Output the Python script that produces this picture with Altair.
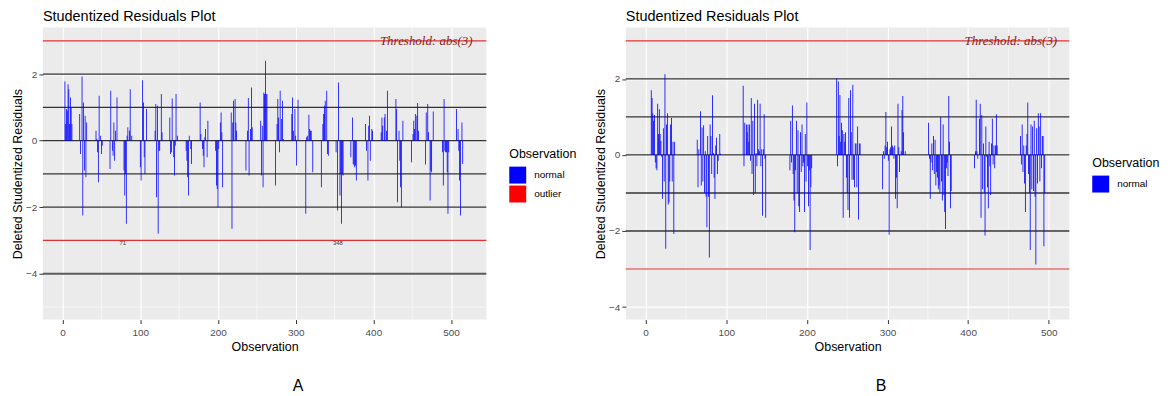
import altair as alt
import pandas as pd

# ---------------- Panel A data (observation index, deleted studentized residual)
a_obs = [3, 4, 5, 6, 7, 8, 9, 10, 11, 12,
         22, 23, 25, 26, 27, 28, 29, 30, 31,
         43, 44, 45, 46, 47, 49, 50, 51,
         61, 62, 64, 65, 66, 67, 68, 70,
         79, 80, 81, 82, 83, 84, 86, 87, 89,
         100, 101, 103, 104, 105, 106, 108,
         119, 120, 121, 122, 123, 124, 125, 127, 128,
         138, 139, 140, 141, 143, 144, 145, 146, 148,
         159, 160, 161, 162, 163, 165, 166,
         177, 178, 180, 181, 182, 183, 184, 186, 187,
         197, 198, 199, 200, 201, 203, 204, 205, 206,
         217, 218, 219, 220, 222, 223, 224,
         236, 238, 239, 240, 242, 243, 244,
         255, 256, 257, 258, 259, 260, 261, 262, 263,
         274, 276, 277, 278, 279, 280, 282, 283, 284,
         295, 296, 297, 299, 300, 301, 303,
         313, 314, 315, 317, 318, 319, 320, 322,
         333, 335, 336, 337, 338, 340, 341, 342,
         352, 354, 355, 357, 358, 359, 360, 361,
         371, 373, 374, 375, 376, 377, 378,
         390, 391, 393, 394, 395, 396, 398, 399,
         410, 411, 412, 414, 415, 417, 418,
         429, 430, 431, 433, 434, 435, 436, 438,
         449, 451, 452, 453, 454, 456, 457, 458,
         467, 468, 470, 471, 473, 474, 475, 477,
         489, 490, 491, 492, 493, 494, 495, 496, 497,
         507, 509, 510, 511, 512, 514, 515]
a_res = [1.78, 0.5, 0.95, 0.9, 1.7, 1.55, 0.5, 1.3, 1.0, 0.5,
         0.8, -0.4, 1.93, -2.25, 1.15, -0.9, 0.75, -1.1, 0.55,
         0.3, 0.05, -0.35, -1.25, 1.35, 0.15, -0.4, -0.15,
         -0.85, 1.5, -0.3, -0.45, 0.55, -0.6, 0.3, 1.3,
         -0.9, -1.65, -1.0, -2.5, 0.15, 0.4, 0.3, 1.55, 0.15,
         -0.8, -1.2, 1.82, 1.15, -0.5, -1.0, 0.95,
         0.3, 1.1, -1.7, 1.05, -2.8, -0.3, -0.3, 1.4, 0.25,
         0.7, -0.4, -0.35, 1.27, -0.5, -1.05, -0.15, 1.4, 0.15,
         -0.3, -0.6, -1.1, -1.65, 0.15, -0.25, -0.7,
         1.15, 0.2, -0.25, -0.45, -0.8, 0.1, 0.35, -0.5, 0.6,
         -0.3, -1.35, -1.45, -2.0, -0.25, 0.55, 0.85, 0.25, -1.4,
         0.85, -2.65, 0.55, 1.2, 1.25, 0.55, 0.3,
         -0.9, 0.3, 1.28, -1.05, 0.35, 1.6, 0.4,
         0.6, -1.05, 0.45, -1.4, 1.45, 1.4, 2.4, 1.4, 1.4,
         -1.35, 0.5, 1.25, 0.7, -0.35, 1.5, 0.65, 1.2, 0.05,
         0.8, 1.3, 0.3, 0.95, 0.15, -0.75, 1.23,
         -2.2, 0.1, 0.15, 0.78, 0.35, 0.3, 0.3, -0.95,
         -1.4, 0.5, 0.8, 1.05, 1.2, 1.5, -0.4, -0.45,
         -0.35, -2.1, 1.75, -1.65, -1.0, -2.5, -1.0, -1.05,
         -0.5, 0.7, -0.7, -0.75, -0.8, -0.75, -1.2,
         0.5, -0.3, -1.2, 0.45, 0.75, -0.6, 0.35, 0.3,
         0.25, 0.7, 0.45, 0.7, 0.8, 0.3, 1.5,
         1.25, 0.95, -1.85, 0.3, -0.6, -1.4, -2.0, 0.6,
         -0.65, 0.2, 0.6, 0.35, 0.8, 0.75, 1.13, 0.3,
         -0.72, 0.85, 1.1, 0.25, -1.8, -0.9, -0.95, 0.88,
         -0.35, -1.35, 1.25, -0.3, -0.35, -0.35, -0.95, -2.2, -0.35,
         0.95, 0.35, -0.3, -1.2, -2.25, 0.55, -0.7]

# ---------------- Panel B data
b_obs = [7, 8, 9, 10, 11, 12, 13, 14, 15, 16, 17, 18, 19, 20, 21, 22, 23, 24, 25, 26,
         27, 28, 29, 30, 31, 32, 33, 34, 35, 36,
         64, 65, 66, 68, 69, 70, 71, 72, 73, 74, 75, 76, 77, 78, 79, 80, 81, 82, 83,
         84, 85, 86, 87, 88, 89, 90, 92, 93,
         121, 122, 123, 125, 126, 127, 128, 129, 130, 131, 132, 133, 134, 135, 136,
         137, 138, 139, 140, 141, 142, 143, 144, 145, 146, 147, 148, 149,
         179, 180, 181, 182, 183, 184, 185, 186, 187, 188, 189, 190, 191, 192, 193,
         194, 195, 196, 197, 198, 199, 200, 201, 202, 203, 204, 205, 206,
         237, 238, 239, 240, 241, 242, 243, 244, 245, 246, 247, 248, 249, 250, 251,
         252, 253, 254, 255, 256, 257, 258, 259, 260, 261, 262, 263, 264, 265, 266,
         294, 295, 296, 297, 298, 299, 300, 301, 302, 303, 304, 305, 306, 307, 308,
         309, 310, 311, 312, 313, 314, 315, 317, 318, 319, 320, 322,
         351, 352, 353, 354, 355, 356, 357, 358, 359, 360, 361, 362, 363, 364, 365,
         366, 367, 368, 369, 370, 371, 372, 373, 374, 375, 376, 377, 378, 379,
         408, 409, 410, 411, 412, 414, 415, 416, 417, 418, 419, 420, 421, 422, 423,
         424, 425, 426, 427, 428, 429, 430, 431, 432, 433, 434, 435, 436,
         465, 466, 467, 468, 469, 470, 471, 472, 473, 474, 475, 476, 477, 478, 479,
         480, 481, 482, 483, 484, 485, 486, 487, 488, 489, 490, 491, 492, 493, 494, 495]
b_res = [1.7, 1.5, 1.1, 0.9, 1.05, -0.2, -0.35, -0.4, 1.35, 0.55, 1.2, 0.55, 0.37, -0.05, -1.15, 0.7, -0.7, 2.12, -2.47, 0.8,
         1.1, -1.3, -1.25, -0.7, 0.8, 0.97, -0.7, 0.35, -2.08, 0.35,
         0.4, -0.85, 0.15, 1.15, -0.8, 0.72, -0.7, 0.78, -1.0, 0.1, -1.1, -1.9, 0.5, -1.1, -2.7, 0.8, 0.5, -0.5, 1.57,
         0.05, -0.6, -1.15, 0.25, 0.45, -0.5, -0.15, 0.55, 0.03,
         1.82, -0.3, 0.85, 0.8, 0.6, 0.8, 0.35, 0.8, -0.15, 1.5, -0.5, 0.9, -1.05, 1.35, -1.0,
         0.05, -0.3, 1.45, 0.15, 0.1, 1.35, -0.3, 0.15, -1.6, 0.15, 1.07, -0.1, -1.65,
         -0.4, 0.9, -0.2, 1.3, -0.5, -1.2, -2.03, -0.4, 0.9, -1.0, 0.65, -1.35, -1.5, 0.6, -0.45,
         0.8, -0.3, -0.2, -1.5, 0.55, -0.7, 1.38, -0.3, -1.35, -0.4, -2.5, -0.85, -0.35,
         2.02, -0.3, 1.93, 0.5, 1.58, 0.35, 0.85, 0.65, -1.65, 0.55, 0.35, 0.6, -0.6, -1.0, -1.45,
         1.5, -1.65, 1.7, 0.6, -0.65, 1.85, -0.65, -0.85, 0.3, 0.3, -0.85, 0.75, -1.7, 0.3, 0.3,
         -0.9, 0.1, -0.1, 0.25, 1.13, 0.2, 0.35, -0.15, -2.1, 0.15, 0.2, 0.75, 0.25, 0.2, -0.1,
         0.25, -1.15, -0.6, -1.4, 1.35, 0.2, -0.45, 0.1, 1.18, 1.55, 0.6, 0.1,
         0.85, -0.1, -1.15, -0.2, 0.3, -0.4, 0.5, -0.5, 0.4, -0.8, -0.45, -0.6, -0.9, -0.8, -1.0,
         1.0, -0.7, -1.2, 0.8, -1.05, -1.5, -1.95, -0.35, -0.2, -0.55, 1.55, 0.35, -1.4, -0.95,
         -0.35, 0.1, 1.45, 0.1, -0.1, 0.95, 1.35, -1.65, 1.05, -0.9, 0.3, -1.0, -2.12, 0.75, -0.05,
         -0.85, -1.4, 0.35, -0.3, -1.05, 0.3, 0.95, -0.25, 0.25, -0.35, 0.25, 1.07, 0.25,
         0.5, -0.25, 0.8, -0.45, 0.25, -0.75, -1.5, 0.25, 0.55, 1.38, -0.5, -1.0, -2.5, 0.8, -0.9,
         0.75, -0.95, 0.9, -1.1, -2.88, 0.7, -0.75, 1.1, 0.75, -0.7, 1.1, -0.35, 0.5, 0.5, -2.4, -1.0]

# ---------------- reference lines, ticks, labels
a_black_lines = [-2, -1, 0, 1, 2]
a_grey_lines = [-4]
b_black_lines = [-2, -1, 0, 1, 2]
threshold_lines = [-3, 3]
threshold_text = "Threshold: abs(3)"
a_outlier_ids = [71, 348]
x_major = [0, 100, 200, 300, 400, 500]
x_minor = [50, 150, 250, 350, 450]
y_major = [-4, -2, 0, 2]
a_y_minor = [-5, -3, -1, 1, 3]
b_y_minor = [-3, -1, 1, 3]

FONT = "Liberation Sans"
BLUE = "#0000ff"
RED = "#ff0000"


def panel(obs, res, ydom, xdom, black, grey, yminor, cats, cols, labels, letter, text_x, leg_y):
    df = pd.DataFrame({"obs": obs, "res": res, "kind": ["normal"] * len(obs)})
    xs = alt.Scale(domain=xdom, nice=False, zero=False)
    ys = alt.Scale(domain=ydom, nice=False, zero=False)

    xax = alt.Axis(values=x_major, grid=True, gridColor="white", gridWidth=1.1,
                   domain=False, tickColor="#333333", tickSize=4, tickWidth=1,
                   labelColor="#4d4d4d", labelFontSize=10, labelFont=FONT, labelPadding=4,
                   title="Observation", titleFont=FONT, titleFontSize=12.5,
                   titleFontWeight="normal", titleColor="black", titlePadding=3)
    yax = alt.Axis(values=y_major, grid=True, gridColor="white", gridWidth=1.1,
                   domain=False, tickColor="#333333", tickSize=4, tickWidth=1,
                   labelColor="#4d4d4d", labelFontSize=10, labelFont=FONT, labelPadding=2,
                   title="Deleted Studentized Residuals", titleFont=FONT, titleFontSize=12.5,
                   titleFontWeight="normal", titleColor="black", titlePadding=1)

    minor_x = alt.Chart(pd.DataFrame({"v": x_minor})).mark_rule(
        color="white", strokeWidth=0.5).encode(x=alt.X("v:Q", scale=xs, axis=xax))
    minor_y = alt.Chart(pd.DataFrame({"v": yminor})).mark_rule(
        color="white", strokeWidth=0.5).encode(y=alt.Y("v:Q", scale=ys, axis=yax))

    hl = alt.Chart(pd.DataFrame({"v": black})).mark_rule(
        color="#333333", strokeWidth=1.3).encode(y=alt.Y("v:Q", scale=ys))
    layers = [minor_x, minor_y, hl]
    if grey:
        gl = alt.Chart(pd.DataFrame({"v": grey})).mark_rule(
            color="#5a5a5a", strokeWidth=2).encode(y=alt.Y("v:Q", scale=ys))
        layers.append(gl)

    bars = alt.Chart(df).transform_calculate(
        x1="datum.obs - 0.5", x2="datum.obs + 0.5"
    ).mark_bar(opacity=1).encode(
        x=alt.X("x1:Q", scale=xs),
        x2="x2:Q",
        y=alt.Y("res:Q", scale=ys),
        y2=alt.datum(0),
        color=alt.Color("kind:N", scale=alt.Scale(domain=cats, range=cols),
                        legend=alt.Legend(title="Observation", orient="none",
                                          legendX=468, legendY=leg_y,
                                          titleFont=FONT, titleFontSize=12.5,
                                          titleFontWeight="normal", titleColor="black",
                                          titlePadding=6,
                                          labelFont=FONT, labelFontSize=10, labelColor="black",
                                          symbolType="square", symbolSize=289,
                                          symbolStrokeWidth=0, symbolOpacity=1,
                                          rowPadding=2, labelOffset=8)),
    )
    layers.append(bars)

    red = alt.Chart(pd.DataFrame({"v": threshold_lines})).mark_rule(
        color="#e03030", strokeWidth=1.2).encode(y=alt.Y("v:Q", scale=ys))
    layers.append(red)

    ttxt = alt.Chart(pd.DataFrame({"x": [text_x], "y": [3], "t": [threshold_text]})).mark_text(
        font="Liberation Serif", fontStyle="italic", fontSize=13, color="#8b1a1a",
        baseline="middle").encode(x=alt.X("x:Q", scale=xs), y=alt.Y("y:Q", scale=ys), text="t:N")
    layers.append(ttxt)

    if labels:
        lab = alt.Chart(pd.DataFrame({"x": labels, "y": [-3] * len(labels),
                                      "t": [str(v) for v in labels]})).mark_text(
            font=FONT, fontSize=6, color="#333333", baseline="middle", dx=5, dy=3
        ).encode(x=alt.X("x:Q", scale=xs), y=alt.Y("y:Q", scale=ys), text="t:N")
        layers.append(lab)

    let = alt.Chart(pd.DataFrame({"t": [letter]})).mark_text(
        font=FONT, fontSize=16, color="black", baseline="middle"
    ).encode(text="t:N", x=alt.value(256), y=alt.value(360))
    layers.append(let)

    return alt.layer(*layers).properties(
        width=445, height=293,
        view=alt.ViewBackground(fill="#ebebeb", strokeWidth=0),
        title=alt.TitleParams("Studentized Residuals Plot", anchor="start", frame="group",
                              font=FONT, fontSize=14.5, fontWeight="normal",
                              color="black", offset=3),
    )


pa = panel(a_obs, a_res, [-5.38, 3.4], [-25.4, 545.4], a_black_lines, a_grey_lines,
           a_y_minor, ["normal", "outlier"], [BLUE, RED], a_outlier_ids, "A", 468, 121)
pb = panel(b_obs, b_res, [-4.33, 3.35], [-24.5, 525.5], b_black_lines, [],
           b_y_minor, ["normal"], [BLUE], [], "B", 453, 130)

chart = alt.hconcat(pa, pb, spacing=17).resolve_scale(
    color="independent", x="independent", y="independent"
).configure_view(fill="#ebebeb", strokeWidth=0).configure(
    padding={"left": 3, "top": 0, "right": 0, "bottom": 0}, background="white")

chart.save("out.html", embed_options={"renderer": "svg", "actions": False})
